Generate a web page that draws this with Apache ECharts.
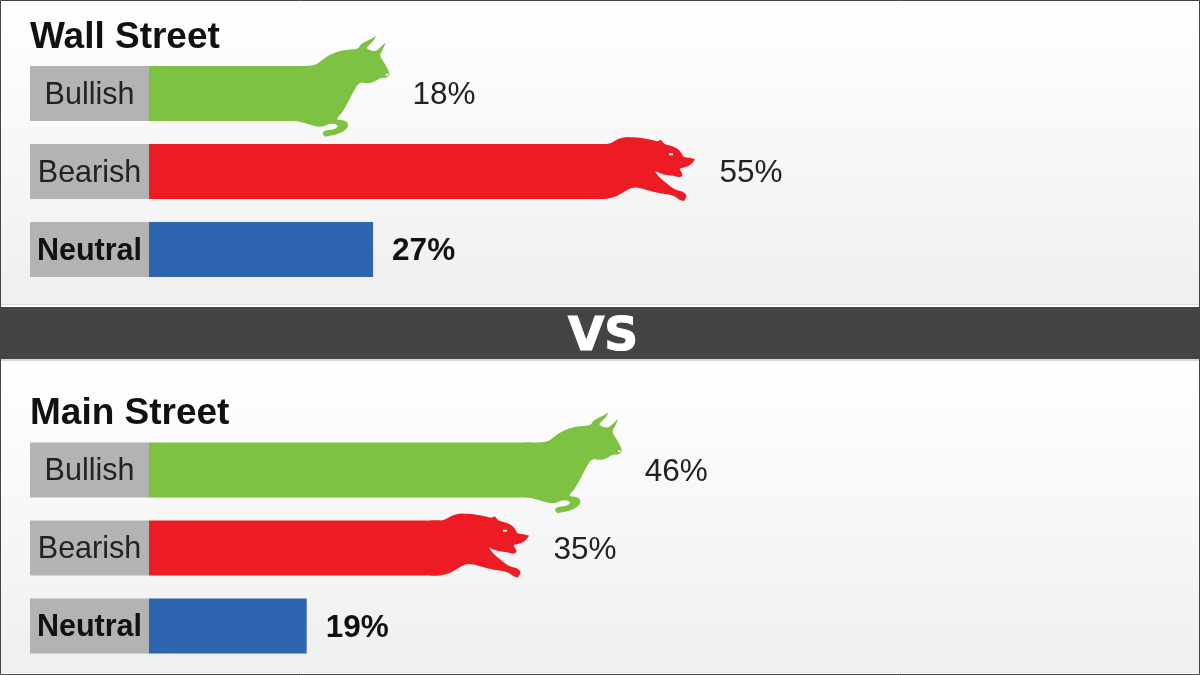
<!DOCTYPE html>
<html>
<head>
<meta charset="utf-8">
<style>html,body{margin:0;padding:0;background:#fff}#c{width:1200px;height:675px}</style>
<script src="https://cdn.jsdelivr.net/npm/echarts@6/dist/echarts.min.js"></script>
</head>
<body>
<div id="c"></div>
<script>
const categories = ['Bullish', 'Bearish', 'Neutral'];
const wallStreetValues = [18, 55, 27];
const mainStreetValues = [46, 35, 19];
const panelTitles = ['Wall Street', 'Main Street'];
const dividerText = 'VS';

const COLORS = { Bullish: '#7dc242', Bearish: '#ed1c24', Neutral: '#2e64b0' };
const FONT = '"Liberation Sans", Arial, sans-serif';

// Outline is rounded through segment midpoints; a repeated point stays a sharp tip.
function smooth(pts) {
  const mid = (a, b) => [(a[0] + b[0]) / 2, (a[1] + b[1]) / 2];
  const n = pts.length;
  const s = mid(pts[n - 1], pts[0]);
  let d = 'M' + s.join(' ');
  for (let i = 0; i < n; i++) {
    const m = mid(pts[i], pts[(i + 1) % n]);
    d += 'Q' + pts[i].join(' ') + ' ' + m.join(' ');
  }
  return d + 'Z';
}
function toPath(pts, holes) {
  let d = smooth(pts);
  (holes || []).forEach(h => { d += 'M' + h.map(p => p.join(' ')).join('L') + 'Z'; });
  return 'path://' + d;
}
const BULL = toPath([[40,123],[40,123],[105,123],[125,105],[150,88],[185,75],[235,72],[240,60],[255,50],[275,42],[288,32],[288,32],[283,45],[265,62],[258,72],[285,80],[300,68],[317,52],[317,52],[308,75],[298,90],[310,110],[325,135],[328,150],[328,150],[318,160],[300,158],[285,170],[262,176],[240,170],[225,190],[205,230],[185,265],[165,285],[195,285],[207,300],[195,318],[165,330],[135,335],[135,335],[125,325],[135,315],[160,315],[175,305],[170,298],[150,295],[130,305],[110,305],[60,290],[40,288],[40,288]],
  [[[317,146],[317,152],[324,152],[324,146]]]);
const BEAR = toPath([[20,57],[20,57],[60,57],[85,40],[110,36],[110,36],[150,38],[185,45],[205,50],[213,42],[222,58],[250,63],[272,78],[280,97],[300,98],[315,103],[315,103],[305,118],[285,128],[265,130],[280,148],[272,158],[250,152],[222,150],[195,138],[195,138],[205,155],[230,175],[255,195],[280,200],[292,212],[282,228],[282,228],[268,225],[250,210],[210,205],[170,195],[135,185],[110,195],[80,215],[50,222],[20,222],[20,222]],
  [[[237,85],[237,91],[249,91],[249,85]]]);
const ANIMALS = {
  Bullish: { symbol: BULL, symbolSize: [96, 101], symbolOffset: [91, -7.3], labelDistance: 114 },
  Bearish: { symbol: BEAR, symbolSize: [98.3, 64], symbolOffset: [89.5, -2.5], labelDistance: 114 }
};

function barData(values) {
  return values.map((v, i) => {
    const c = categories[i], a = ANIMALS[c];
    return {
      value: v,
      itemStyle: { color: COLORS[c] },
      label: {
        show: true, position: 'right', distance: a ? a.labelDistance : 19, offset: [0, 2],
        formatter: '{c}%', fontFamily: FONT, fontSize: 31.5,
        fontWeight: a ? 'normal' : 'bold', color: a ? '#222' : '#111'
      }
    };
  });
}
function animalData(values) {
  return values.map((v, i) => {
    const c = categories[i], a = ANIMALS[c];
    if (!a) return { value: '-' };
    return { value: v, symbol: a.symbol, symbolSize: a.symbolSize, symbolOffset: a.symbolOffset,
             itemStyle: { color: COLORS[c] } };
  });
}
const grids = [
  { left: 149, width: 830, top: 54.5, height: 234 },
  { left: 149, width: 830, top: 431, height: 234 }
];
const xAxes = grids.map((_, i) => ({ type: 'value', gridIndex: i, min: 0, max: 100, show: false }));
const yAxes = grids.map((_, i) => ({
  type: 'category', gridIndex: i, data: categories, inverse: true,
  axisLine: { show: false }, axisTick: { show: false }, splitLine: { show: false },
  axisLabel: {
    margin: 0,
    formatter: v => (v === 'Neutral' ? '{b|' : '{n|') + v + '}',
    rich: {
      n: { width: 119, height: 51, lineHeight: 51, padding: [4, 0, 0, 0], align: 'center', backgroundColor: '#b3b3b3',
           fontFamily: FONT, fontSize: 30.5, color: '#222' },
      b: { width: 119, height: 51, lineHeight: 51, padding: [4, 0, 0, 0], align: 'center', backgroundColor: '#b3b3b3',
           fontFamily: FONT, fontSize: 30.5, fontWeight: 'bold', color: '#111' }
    }
  }
}));
const seriesList = [];
[wallStreetValues, mainStreetValues].forEach((vals, i) => {
  seriesList.push({ type: 'pictorialBar', xAxisIndex: i, yAxisIndex: i, barWidth: 55, z: 3,
    symbolPosition: 'end', symbolRepeat: false, data: animalData(vals), silent: true });
  seriesList.push({ type: 'bar', xAxisIndex: i, yAxisIndex: i, barWidth: 55, z: 4,
    data: barData(vals), silent: true });
});
const bgFill = { type: 'linear', x: 0, y: 0, x2: 0, y2: 1,
  colorStops: [{ offset: 0, color: '#ffffff' }, { offset: 1, color: '#efefef' }] };

const chart = echarts.init(document.getElementById('c'), null, { renderer: 'canvas' });
chart.setOption({
  animation: false,
  backgroundColor: '#ffffff',
  title: [
    { text: panelTitles[0], left: 30, top: 19, textStyle: { fontFamily: FONT, fontSize: 37, fontWeight: 'bold', color: '#111' }, padding: 0 },
    { text: panelTitles[1], left: 30, top: 395, textStyle: { fontFamily: FONT, fontSize: 37, fontWeight: 'bold', color: '#111' }, padding: 0 },
    { text: dividerText, left: 603, textAlign: 'center', top: 312, padding: 0,
      textStyle: { fontFamily: '"DejaVu Sans", sans-serif', fontSize: 47, fontWeight: 'bold', color: '#fff', lineHeight: 52,
                   textBorderColor: '#fff', textBorderWidth: 1.2 } }
  ],
  graphic: [
    { type: 'rect', z: -10, shape: { x: 0, y: 0, width: 1200, height: 304 }, style: { fill: bgFill } },
    { type: 'rect', z: -10, shape: { x: 0, y: 361, width: 1200, height: 312 }, style: { fill: bgFill } },
    { type: 'rect', z: -9, shape: { x: 0, y: 304, width: 1200, height: 1 }, style: { fill: '#dcdcdc' } },
    { type: 'rect', z: -9, shape: { x: 0, y: 359, width: 1200, height: 2 }, style: { fill: '#d8d8d8' } },
    { type: 'rect', z: -9, shape: { x: 0, y: 307, width: 1200, height: 52 }, style: { fill: '#444442' } },
    { type: 'rect', z: 10, shape: { x: 0.5, y: 0.5, width: 1199, height: 674 }, style: { fill: 'none', stroke: '#444', lineWidth: 1 } }
  ],
  grid: grids,
  xAxis: xAxes,
  yAxis: yAxes,
  series: seriesList
});
</script>
</body>
</html>
